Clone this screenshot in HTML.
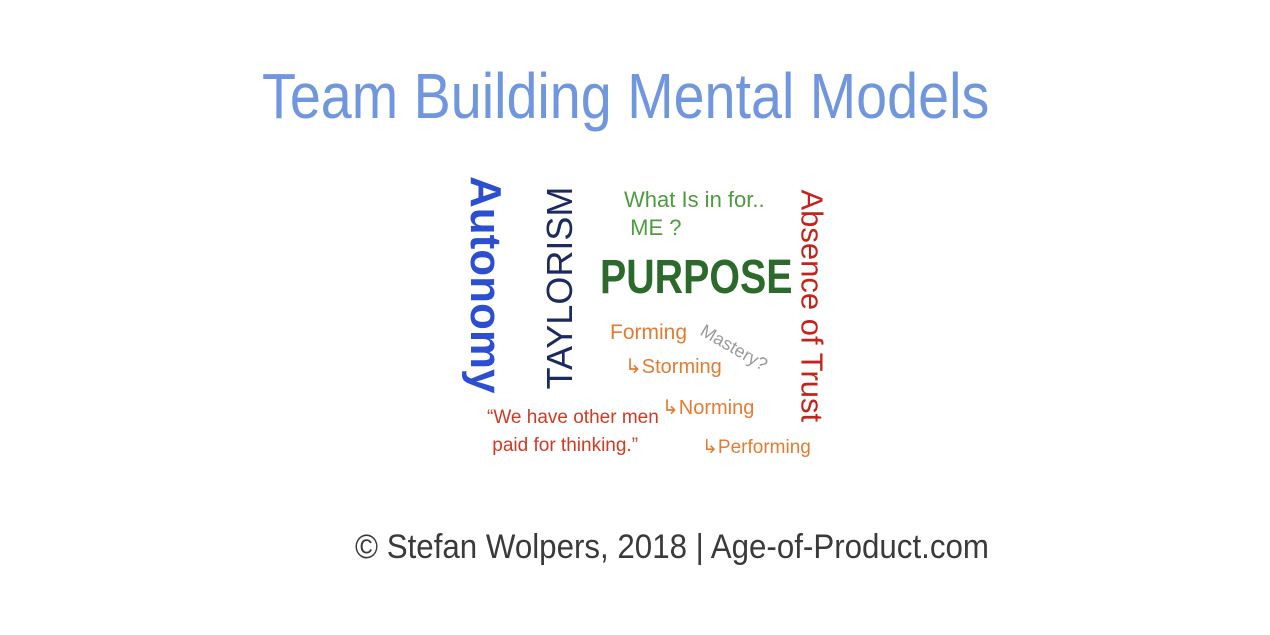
<!DOCTYPE html>
<html><head><meta charset="utf-8"><style>
html,body{margin:0;padding:0;background:#fff}
body{width:1270px;height:635px;position:relative;overflow:hidden;font-family:"Liberation Sans",sans-serif}
.t{position:absolute;white-space:nowrap;line-height:1}
</style></head><body>
<div class="t" style="left:262px;top:64px;font-size:64px;color:#7096de;transform:scaleX(0.87);transform-origin:left">Team Building Mental Models</div>

<div class="t" style="left:380px;top:259px;width:210px;text-align:center;font-size:44px;font-weight:bold;color:#2c4fd2;transform:rotate(90deg);transform-origin:center">Autonomy</div>

<div class="t" style="left:455px;top:270px;width:210px;text-align:center;font-size:36px;color:#1d2a60;transform:rotate(-90deg);transform-origin:center">TAYLORISM</div>

<div class="t" style="left:624px;top:186px;font-size:22px;color:#4d9c3c;line-height:28px">What Is in for..<br>&nbsp;ME ?</div>

<div class="t" style="left:600px;top:254px;font-size:48px;font-weight:bold;color:#2b6a2a;transform:scaleX(0.82);transform-origin:left">PURPOSE</div>

<div class="t" style="left:697px;top:289px;width:230px;text-align:center;font-size:31px;color:#c4231b;transform:rotate(90deg);transform-origin:center">Absence of Trust</div>

<div class="t" style="left:610px;top:322px;font-size:21px;color:#e37b33">Forming</div>
<div class="t" style="left:702px;top:320px;font-size:18px;color:#9a9a9a;transform:rotate(30deg);transform-origin:left">Mastery?</div>
<div class="t" style="left:625px;top:357px;font-size:20px;color:#e37b33">↳Storming</div>
<div class="t" style="left:662px;top:398px;font-size:20px;color:#e37b33">↳Norming</div>
<div class="t" style="left:702px;top:438px;font-size:19px;color:#e37b33">↳Performing</div>

<div class="t" style="left:487px;top:404px;font-size:19px;color:#d03a22;line-height:28px">“We have other men<br>&nbsp;paid for thinking.”</div>

<div class="t" style="left:355px;top:530px;font-size:34px;color:#3a3a3a;transform:scaleX(0.92);transform-origin:left">© Stefan Wolpers, 2018 | Age-of-Product.com</div>
</body></html>
